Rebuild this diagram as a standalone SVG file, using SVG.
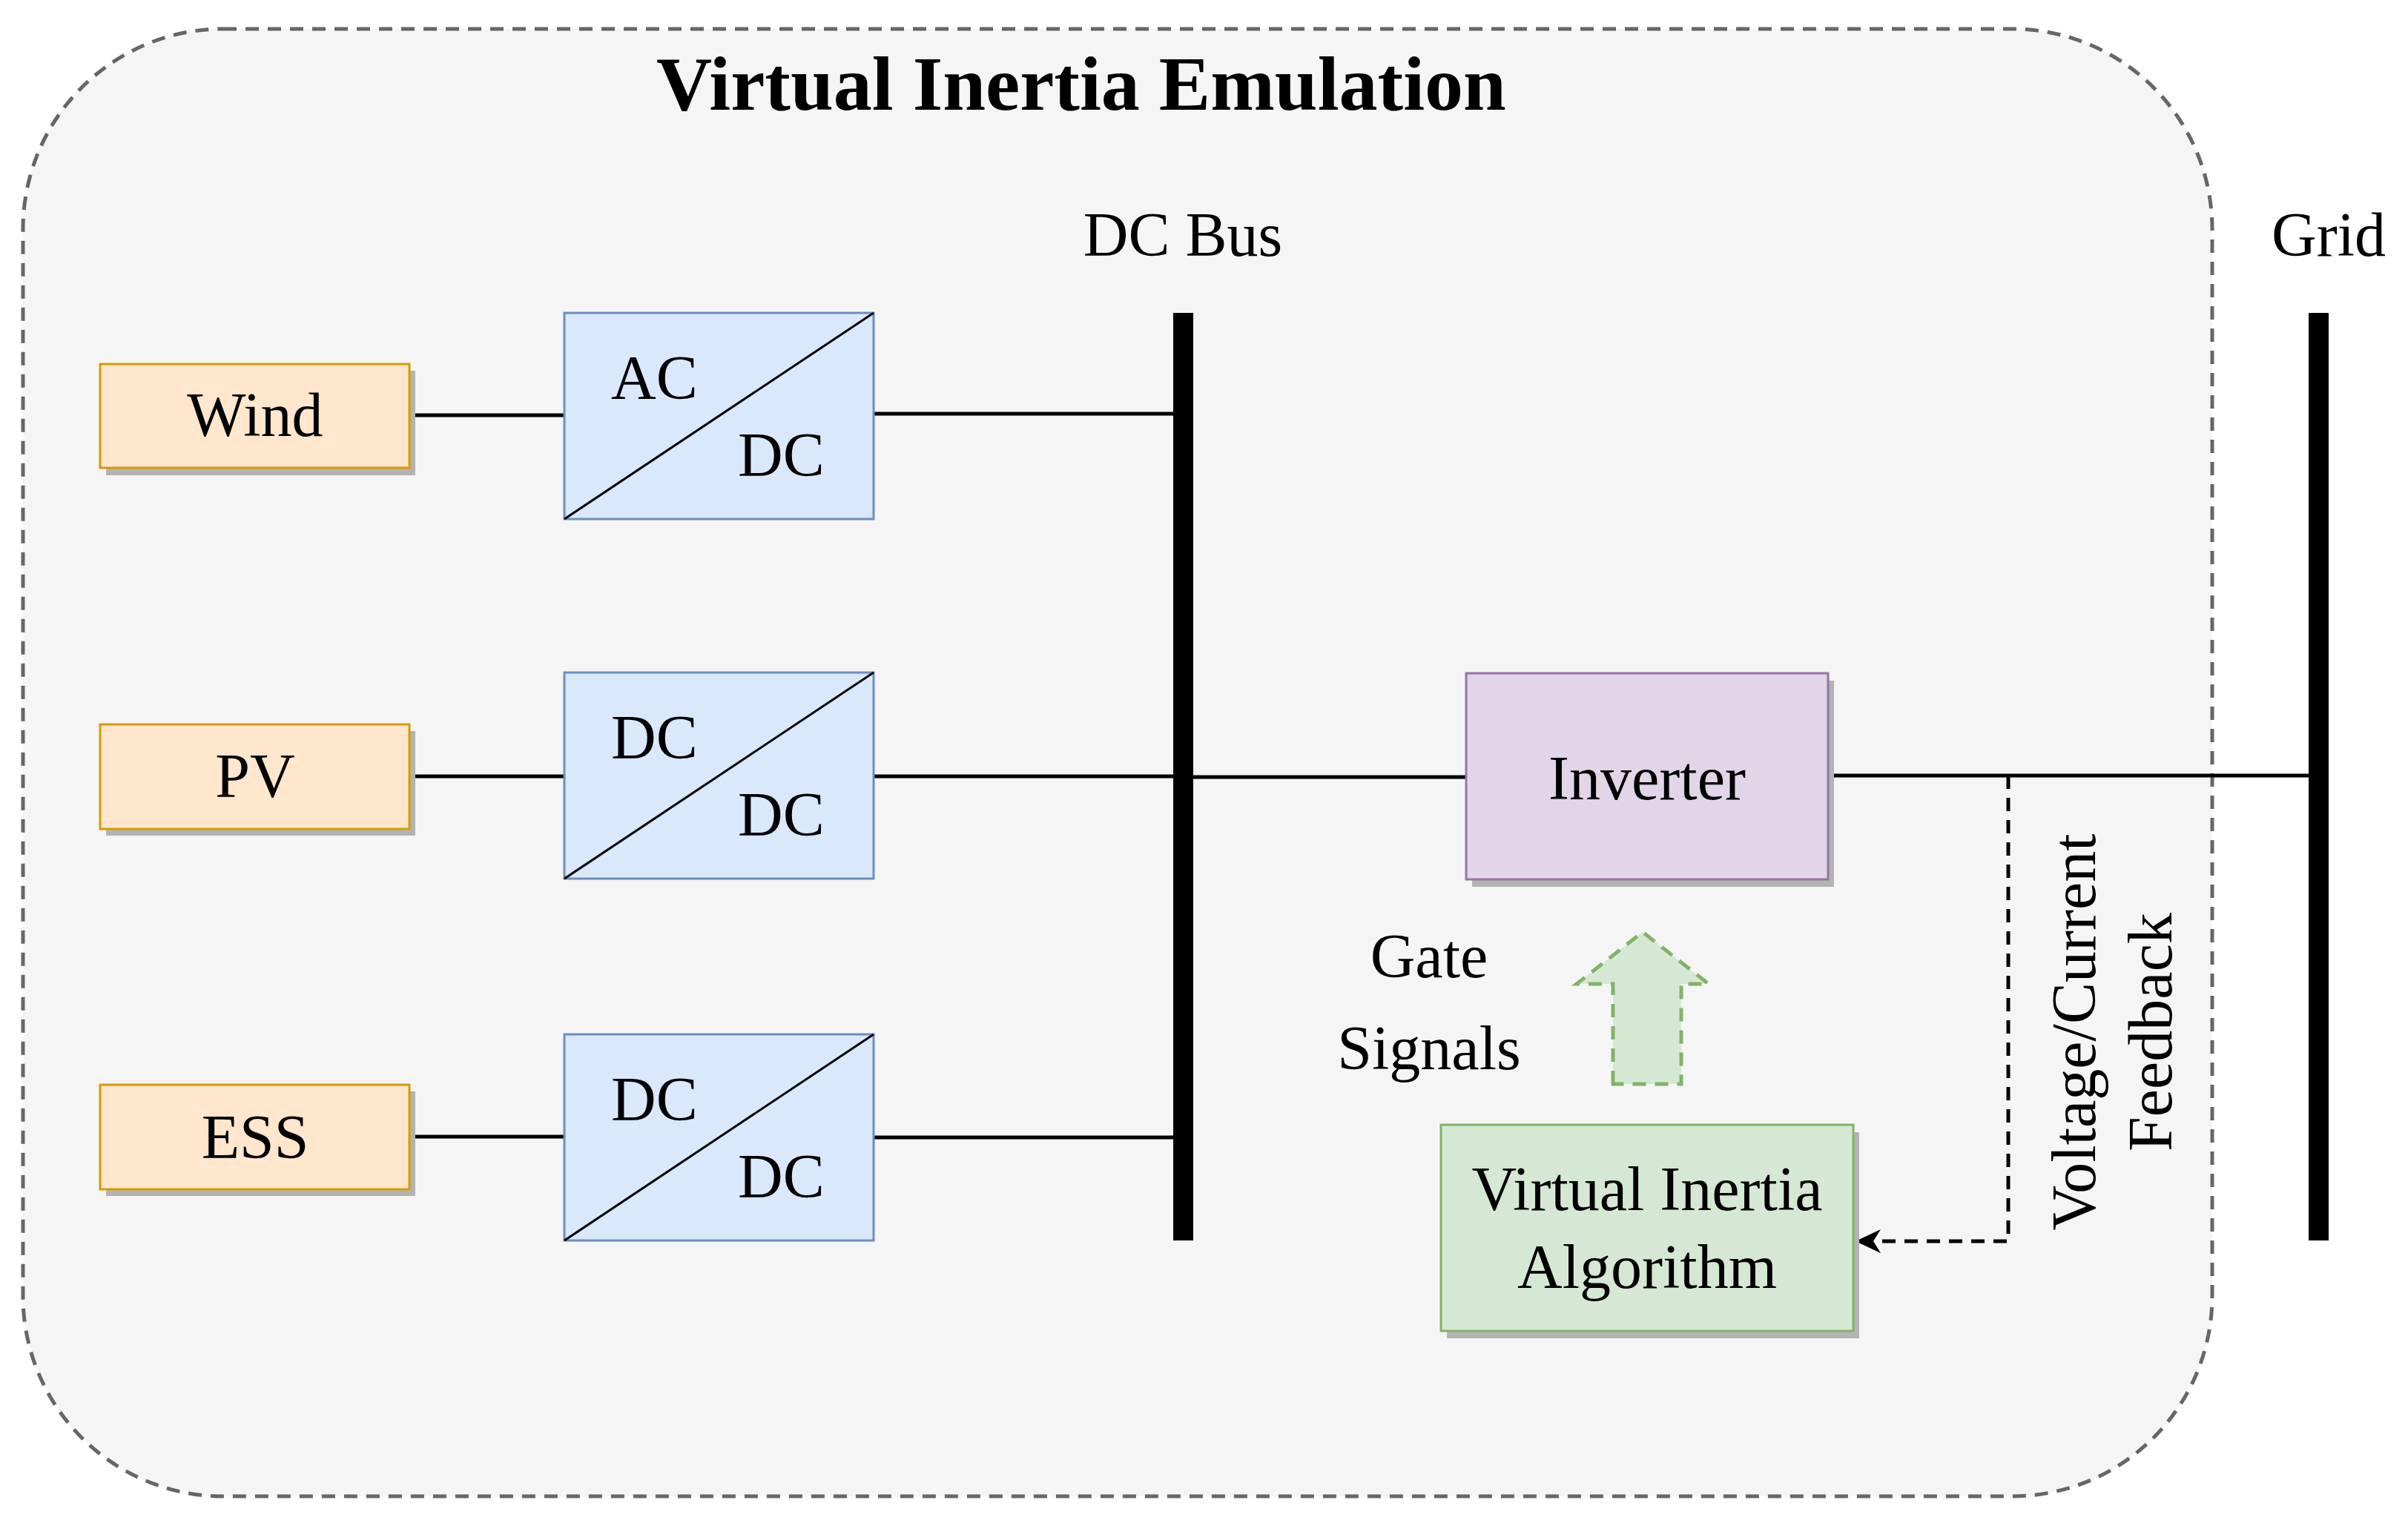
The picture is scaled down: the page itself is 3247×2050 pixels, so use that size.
<svg xmlns="http://www.w3.org/2000/svg" width="3247" height="2050" viewBox="0 0 3247 2050">
<style>
text{font-family:"Liberation Serif","Times New Roman",serif;font-size:84px;fill:#000}
text.title{font-size:104px;font-weight:bold}
.src{fill:#ffe6cc;stroke:#d79b00;stroke-width:3}
.cv{fill:#dae8fc;stroke:#6c8ebf;stroke-width:3}
.sh{fill:#b3b3b3}
.ln{stroke:#000;stroke-width:5;fill:none}
.bus{fill:#000}
</style>
<defs>
<marker id="ah2" markerWidth="40" markerHeight="40" refX="34" refY="18" orient="auto" markerUnits="userSpaceOnUse" viewBox="0 0 40 40"><path d="M34,18 L0,2 L10,18 L0,34 Z" fill="#000"/></marker></defs>
<g id="container"><rect x="31" y="39" width="2952" height="1979" rx="270" fill="#f5f5f5" stroke="#666" stroke-width="5" stroke-dasharray="18 12"/>
<text class="title" x="1458" y="148" text-anchor="middle">Virtual Inertia Emulation</text></g>
<g id="connectors">
<path class="ln" d="M553 560H761M1178 558H1582M553 1047H761M1178 1047H1582M1609 1048H1977M2465 1046H3113M553 1533H761M1178 1534H1582"/>
<path d="M2708 1046V1674H2502" fill="none" stroke="#000" stroke-width="5" stroke-dasharray="18 12" marker-end="url(#ah2)"/>
</g>
<g id="dcbus"><rect class="bus" x="1582" y="422" width="27" height="1251"/><text x="1595" y="345" text-anchor="middle">DC Bus</text></g>
<g id="grid"><rect class="bus" x="3113" y="422" width="27" height="1251"/><text x="3140" y="345" text-anchor="middle">Grid</text></g>
<g id="wind"><rect class="sh" x="143" y="500" width="417" height="141"/><rect class="src" x="135" y="491" width="417" height="140"/><text x="344" y="588" text-anchor="middle">Wind</text></g>
<g id="pv"><rect class="sh" x="143" y="986" width="417" height="141"/><rect class="src" x="135" y="977" width="417" height="141"/><text x="344" y="1075" text-anchor="middle">PV</text></g>
<g id="ess"><rect class="sh" x="143" y="1472" width="417" height="141"/><rect class="src" x="135" y="1463" width="417" height="141"/><text x="344" y="1562" text-anchor="middle">ESS</text></g>
<g id="conv1"><rect class="cv" x="761" y="422" width="417" height="278"/><path d="M761 700L1178 422" stroke="#000" stroke-width="3"/><text x="824" y="538">AC</text><text x="995" y="642">DC</text></g>
<g id="conv2"><rect class="cv" x="761" y="907" width="417" height="278"/><path d="M761 1185L1178 907" stroke="#000" stroke-width="3"/><text x="824" y="1023">DC</text><text x="995" y="1127">DC</text></g>
<g id="conv3"><rect class="cv" x="761" y="1395" width="417" height="278"/><path d="M761 1673L1178 1395" stroke="#000" stroke-width="3"/><text x="824" y="1511">DC</text><text x="995" y="1615">DC</text></g>
<g id="inverter"><rect class="sh" x="1985" y="918" width="488" height="278"/><rect x="1977" y="908" width="488" height="278" fill="#e1d5e7" stroke="#9673a6" stroke-width="3"/><text x="2221" y="1078" text-anchor="middle">Inverter</text></g>
<g id="via"><rect class="sh" x="1951" y="1527" width="556" height="278"/><rect x="1943" y="1517" width="556" height="278" fill="#d5e8d4" stroke="#82b366" stroke-width="3"/><text x="2221" y="1632" text-anchor="middle">Virtual Inertia</text><text x="2221" y="1737" text-anchor="middle">Algorithm</text></g>
<g id="gatearrow"><path d="M2175 1462V1327H2126L2215 1257L2304 1327H2267V1462Z" fill="#d5e8d4" stroke="#82b366" stroke-width="5" stroke-dasharray="18 12"/></g>
<g id="gatelabel"><text x="1927" y="1318" text-anchor="middle">Gate</text><text x="1927" y="1442" text-anchor="middle">Signals</text></g>
<g id="fblabel"><text transform="translate(2825 1392) rotate(-90)" text-anchor="middle">Voltage/Current</text><text transform="translate(2928 1392) rotate(-90)" text-anchor="middle">Feedback</text></g>
</svg>
